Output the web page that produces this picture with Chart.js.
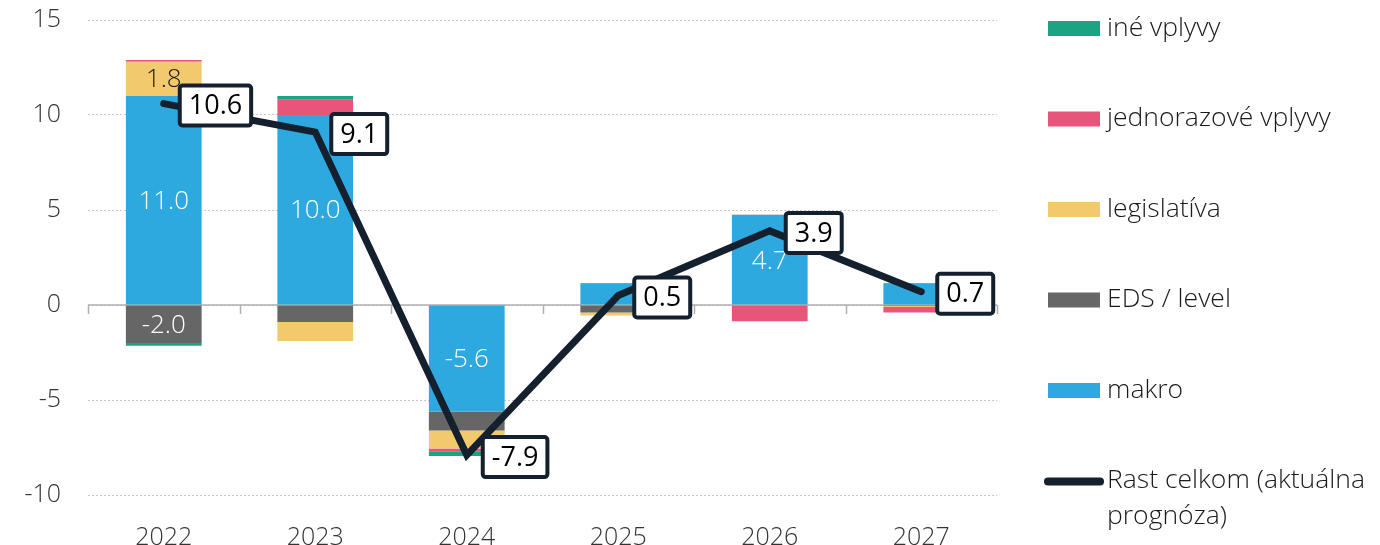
<!DOCTYPE html>
<html>
<head>
<meta charset="utf-8">
<script src="https://cdn.jsdelivr.net/npm/chart.js@4.4.1/dist/chart.umd.min.js"></script>
<style>
  body { margin: 0; background: #fff; }
  #wrap { width: 1380px; height: 545px; }
</style>
</head>
<body>
<div id="wrap"><canvas id="myChart" width="1380" height="545"></canvas></div>
<script>
// categories and series
var years = ['2022', '2023', '2024', '2025', '2026', '2027']
var makro = [11.0, 10.0, -5.6, 1.1, 4.7, 1.1]
var eds = [-2.0, -0.9, -1.0, -0.4, 0.05, -0.05]
var legislativa = [1.8, -1.0, -0.95, -0.15, 0, -0.05]
var jednorazove = [0.1, 0.8, -0.15, 0, -0.85, -0.3]
var ine = [-0.15, 0.2, -0.25, 0.05, 0, 0.05]
var rast = [10.6, 9.1, -7.9, 0.5, 3.9, 0.7]
var yTicks = [-10, -5, 0, 5, 10, 15]

var FONT = '"Open Sans", "Noto Sans", sans-serif'
var LINE_COLOR = '#14202e'

// labels inside bars, boxed labels on the line, zero line, legend
var extras = {
    id: 'extras',
    beforeDatasetsDraw: function(chart) {
        var c = chart.ctx, area = chart.chartArea
        var y0 = chart.scales.y.getPixelForValue(0)
        c.save()
        c.strokeStyle = '#b0b0b0'
        c.lineWidth = 1.5
        c.beginPath()
        c.moveTo(area.left, y0)
        c.lineTo(area.right, y0)
        var step = (area.right - area.left) / years.length
        for (var i = 0; i <= years.length; i++) {
            var x = Math.round(area.left + i * step) + 0.5
            c.moveTo(x, y0)
            c.lineTo(x, y0 + 9)
        }
        c.stroke()
        c.restore()
    },
    afterDatasetsDraw: function(chart) {
        var c = chart.ctx
        c.save()
        c.textAlign = 'center'
        c.textBaseline = 'middle'
        // bar value labels
        chart.data.datasets.forEach(function(ds, di) {
            if (ds.type === 'line') return
            var meta = chart.getDatasetMeta(di)
            meta.data.forEach(function(el, i) {
                var v = ds.data[i]
                if (Math.abs(v) < 1.5) return
                c.font = '300 26px ' + FONT
                c.fillStyle = ds.labelColor
                c.fillText(v.toFixed(1), el.x, (el.y + el.base) / 2 + 1)
            })
        })
        // boxed labels for the total line
        var li = chart.data.datasets.findIndex(function(d) { return d.type === 'line' })
        var lmeta = chart.getDatasetMeta(li)
        lmeta.data.forEach(function(pt, i) {
            var txt = rast[i].toFixed(1)
            c.font = '400 27px ' + FONT
            var w = c.measureText(txt).width + 18
            var h = 40
            var bx = pt.x + 16, by = pt.y - h / 2 + 2
            c.lineWidth = 4
            c.strokeStyle = LINE_COLOR
            c.fillStyle = '#fff'
            c.beginPath()
            c.roundRect(bx, by, w, h, 3)
            c.fill()
            c.stroke()
            c.fillStyle = '#000'
            c.fillText(txt, bx + w / 2, by + h / 2 + 1)
        })
        c.restore()
    },
    afterDraw: function(chart) {
        var c = chart.ctx
        c.save()
        c.font = '300 26.5px ' + FONT
        c.textBaseline = 'middle'
        var bars = chart.data.datasets.filter(function(d) { return d.type !== 'line' }).reverse()
        var line = chart.data.datasets.filter(function(d) { return d.type === 'line' })
        var items = bars.concat(line)
        var sx = 1048, tx = 1107, top = 28, gap = 90.5
        items.forEach(function(ds, k) {
            var cy = top + k * gap
            if (ds.type === 'line') {
                c.strokeStyle = ds.borderColor
                c.lineWidth = 8
                c.lineCap = 'round'
                c.beginPath()
                c.moveTo(sx, cy + 1)
                c.lineTo(sx + 52, cy + 1)
                c.stroke()
                c.fillStyle = '#1a1a1a'
                var parts = ds.label.split('\n')
                parts.forEach(function(p, j) { c.fillText(p, tx, cy + j * 36) })
            } else {
                c.fillStyle = ds.backgroundColor
                c.fillRect(sx, cy - 7, 52, 15)
                c.fillStyle = '#1a1a1a'
                c.fillText(ds.label, tx, cy)
            }
        })
        c.restore()
    }
}

var ctx = document.getElementById('myChart').getContext('2d')
var myChart = new Chart(ctx, {
    type: 'bar',
    data: {
        labels: years,
        datasets: [
            { label: 'makro', data: makro, backgroundColor: '#2ea9df', labelColor: '#fff', order: 1 },
            { label: 'EDS / level', data: eds, backgroundColor: '#666666', labelColor: '#fff', order: 1 },
            { label: 'legislatíva', data: legislativa, backgroundColor: '#f2c96d', labelColor: '#1a1a1a', order: 1 },
            { label: 'jednorazové vplyvy', data: jednorazove, backgroundColor: '#e8557a', labelColor: '#fff', order: 1 },
            { label: 'iné vplyvy', data: ine, backgroundColor: '#1ba482', labelColor: '#fff', order: 1 },
            {
                type: 'line', label: 'Rast celkom (aktuálna\nprognóza)', data: rast,
                borderColor: LINE_COLOR, borderWidth: 7, pointRadius: 0,
                borderCapStyle: 'round', borderJoinStyle: 'miter', order: 0
            }
        ]
    },
    options: {
        responsive: false,
        animation: false,
        layout: { padding: { top: 0, right: 383, bottom: 0, left: 0 } },
        datasets: { bar: { categoryPercentage: 1, barPercentage: 0.5 } },
        plugins: { legend: { display: false }, tooltip: { enabled: false } },
        scales: {
            x: {
                stacked: true,
                grid: { display: false },
                border: { display: false },
                ticks: { padding: 20, color: '#333', font: { family: FONT, size: 25, weight: 300 } },
                afterFit: function(s) { s.height = 50 }
            },
            y: {
                stacked: true,
                min: -10, max: 15,
                afterBuildTicks: function(s) { s.ticks = yTicks.map(function(v) { return { value: v } }) },
                grid: { color: '#c8c8c8', lineWidth: 1, drawTicks: false },
                border: { display: false, dash: [2, 2] },
                ticks: { padding: 27, color: '#333', font: { family: FONT, size: 25, weight: 300 } },
                afterFit: function(s) { s.width = 88; s.paddingTop = 20 }
            }
        }
    },
    plugins: [extras]
});
</script>
</body>
</html>
